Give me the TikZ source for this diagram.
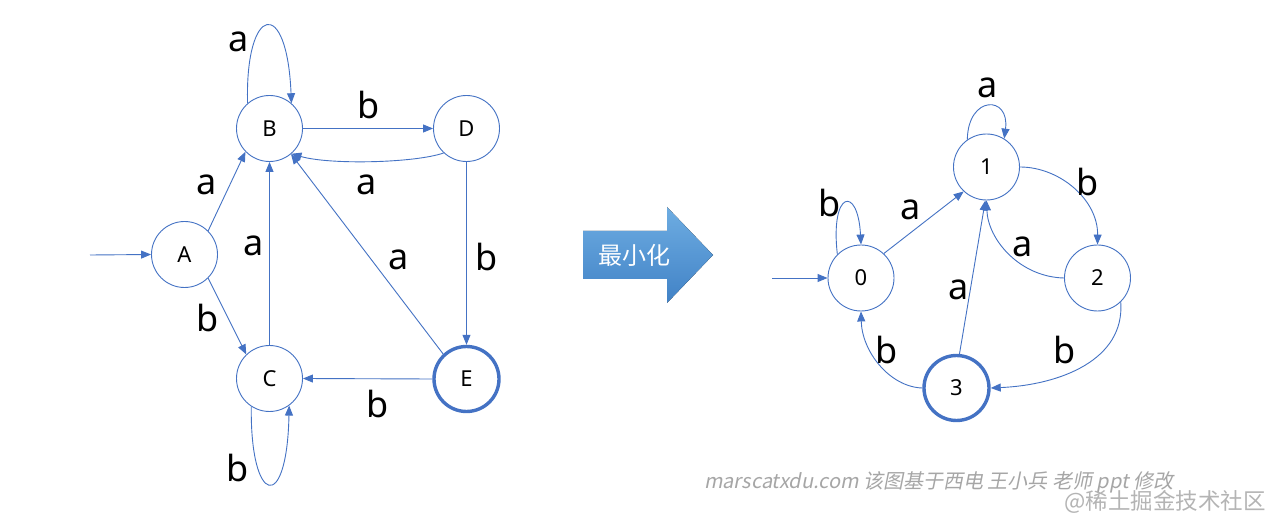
\documentclass[tikz,border=0pt]{standalone}
\usepackage{fontspec}
\setmainfont{Noto Sans}
\newfontfamily\cjk{Noto Sans CJK SC}
\newfontfamily\cjkit[FakeSlant=0.2]{Noto Sans CJK SC}
\usetikzlibrary{arrows.meta,shapes.arrows}
\definecolor{edgeblue}{HTML}{4472C4}
\definecolor{wmgray}{HTML}{A6A6A6}
\definecolor{wmgray2}{HTML}{B4B4B4}
\definecolor{arrtop}{HTML}{6EADE2}
\definecolor{arrbot}{HTML}{4182C6}
\tikzset{
  state/.style={circle, draw=edgeblue, line width=0.9pt, minimum size=66pt, inner sep=0pt, font=\fontsize{22}{24}\selectfont},
  final/.style={state, line width=3.4pt, minimum size=65pt},
  e/.style={draw=edgeblue, line width=0.9pt, -{Triangle[length=10pt,width=8pt]}},
  lab/.style={inner sep=0pt, font=\fontsize{36}{40}\selectfont},
}
\begin{document}
\begin{tikzpicture}[x=1pt,y=-1pt]
\useasboundingbox (0,0) rectangle (1283,529);
\fill[white] (0,0) rectangle (1283,529);

% ---------- left automaton ----------
\node[state] (A) at (184.5,254.5) {A};
\node[state] (B) at (269.5,128.5) {B};
\node[state] (D) at (466.5,128.5) {D};
\node[state] (C) at (269.5,378.5) {C};
\node[final] (E) at (466.5,379) {E};
\coordinate (sL) at (90,255);

\draw[e] (sL) -- (A.west);
\draw[e] (A.45) -- (B.224);
\draw[e] (A.-45) -- (C.134);
\draw[e] (B.east) -- (D.west);
\draw[e] (D.227) .. controls (415,163) and (330,165) .. (B.-49);
\draw[e] (C.north) -- (B.south);
\draw[e] (E.133) -- (B.-50);
\draw[e] (D.south) -- (E.north);
\draw[e] (E.west) -- (C.east);
\draw[e] (B.131) .. controls (245,5) and (287,-5) .. (B.49);
\draw[e] (C.-123) .. controls (250,505) and (287,515) .. (C.-54);

\node[lab] (lBB) at (239,42) {a};
\node[lab] (lAB) at (207,185) {a};
\node[lab] (lCB) at (254,246) {a};
\node[lab] (lBD) at (369,105) {b};
\node[lab] (lDB) at (367,185) {a};
\node[lab] (lEB) at (399,260) {a};
\node[lab] (lDE) at (487,257) {b};
\node[lab] (lAC) at (208,318) {b};
\node[lab] (lEC) at (378,404) {b};
\node[lab] (lCC) at (238,468) {b};

% ---------- big arrow ----------
\fill[top color=arrtop, bottom color=arrbot]
  (583,231) -- (667,231) -- (667,207) -- (713,255) -- (667,303) -- (667,279) -- (583,279) -- cycle;
\node[text=white, inner sep=0pt, font=\cjk\fontsize{24}{26}\selectfont] (min) at (634,255) {最小化};

% ---------- right automaton ----------
\node[state] (n0) at (861,278) {0};
\node[state] (n1) at (986.5,167) {1};
\node[state] (n2) at (1097.5,278) {2};
\node[final] (n3) at (956.5,388) {3};
\coordinate (sR) at (772,278);

\draw[e] (sR) -- (n0.west);
\draw[e] (n0.47) -- (n1.227);
\draw[e] (n0.135) .. controls (830,190) and (858,185) .. (n0.north);
\draw[e] (n1.125) .. controls (968,95) and (1010,95) .. (n1.58);
\draw[e] (n1.east) .. controls (1060,167) and (1098,200) .. (n2.north);
\draw[e] (n2.west) .. controls (1020,277) and (988,240) .. (n1.south);
\draw[e] (n3.85) -- (n1.268);
\draw[e] (n3.west) .. controls (890,387) and (862,352) .. (n0.south);
\draw[e] (n2.-46) .. controls (1125,360) and (1060,385) .. (n3.east);

\node[lab] (l00) at (830,203) {b};
\node[lab] (l01) at (911,210) {a};
\node[lab] (l11) at (988,88) {a};
\node[lab] (l12) at (1088,182) {b};
\node[lab] (l21) at (1023,247) {a};
\node[lab] (l31) at (959,290) {a};
\node[lab] (l30) at (887,350) {b};
\node[lab] (l23) at (1065,350) {b};

% ---------- watermark ----------
\node[anchor=west, inner sep=0pt, text=wmgray, font=\cjkit\fontsize{20}{22}\selectfont] (wm1) at (704,482) {marscatxdu.com 该图基于西电 王小兵 老师 ppt 修改};
\node[anchor=east, inner sep=0pt, text=wmgray2, font=\cjk\fontsize{22.5}{24}\selectfont] (wm2) at (1266,502) {@稀土掘金技术社区};
\end{tikzpicture}
\end{document}
